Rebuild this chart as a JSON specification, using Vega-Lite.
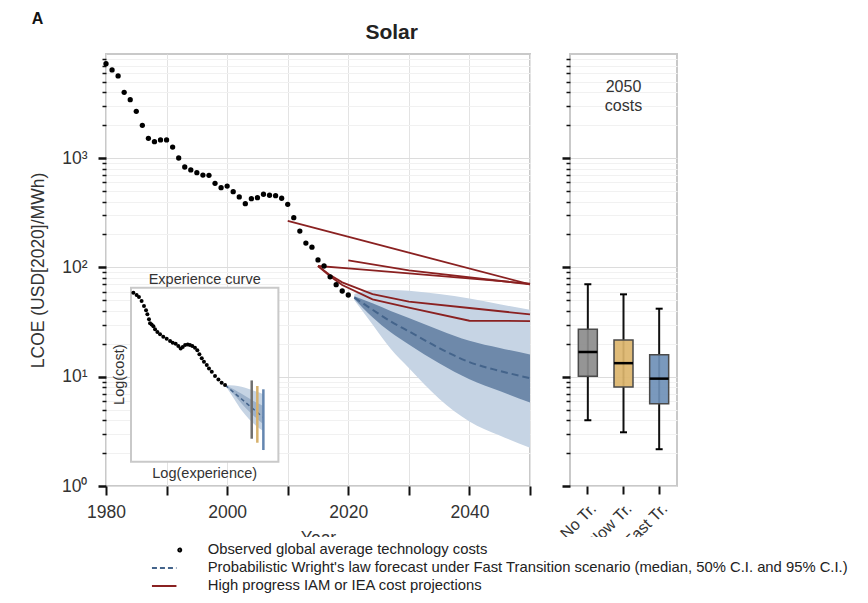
{
  "$schema": "https://vega.github.io/schema/vega-lite/v6.json",
  "padding": {"left": 28, "top": 10, "right": 5, "bottom": 3},
  "bounds": "flush",
  "spacing": 40,
  "title": {"text": "Solar", "fontSize": 21, "fontWeight": "bold", "anchor": "middle", "frame": "group", "offset": 12, "dx": 285.7, "dy": 45, "color": "#222222"},
  "config": {
    "font": "Liberation Sans",
    "view": {"stroke": "#c9c9c9", "strokeWidth": 2},
    "axis": {"labelColor": "#333333", "titleColor": "#333333", "titleFontWeight": "normal", "labelFont": "Liberation Sans", "titleFont": "Liberation Sans"}
  },
  "datasets": {
    "observed": [
      {"year": 1980, "cost": 7300}, {"year": 1981, "cost": 6400}, {"year": 1982, "cost": 5640}, {"year": 1983, "cost": 4000},
      {"year": 1984, "cost": 3420}, {"year": 1985, "cost": 2680}, {"year": 1986, "cost": 1995}, {"year": 1987, "cost": 1518},
      {"year": 1988, "cost": 1413}, {"year": 1989, "cost": 1465}, {"year": 1990, "cost": 1465}, {"year": 1991, "cost": 1262},
      {"year": 1992, "cost": 1002}, {"year": 1993, "cost": 829}, {"year": 1994, "cost": 779}, {"year": 1995, "cost": 735},
      {"year": 1996, "cost": 700}, {"year": 1997, "cost": 696}, {"year": 1998, "cost": 588}, {"year": 1999, "cost": 536},
      {"year": 2000, "cost": 555}, {"year": 2001, "cost": 493}, {"year": 2002, "cost": 441}, {"year": 2003, "cost": 383},
      {"year": 2004, "cost": 425}, {"year": 2005, "cost": 434}, {"year": 2006, "cost": 467}, {"year": 2007, "cost": 457},
      {"year": 2008, "cost": 453}, {"year": 2009, "cost": 429}, {"year": 2010, "cost": 378}, {"year": 2011, "cost": 285},
      {"year": 2012, "cost": 215}, {"year": 2013, "cost": 167}, {"year": 2014, "cost": 153}, {"year": 2015, "cost": 117},
      {"year": 2016, "cost": 103}, {"year": 2017, "cost": 82}, {"year": 2018, "cost": 69.5}, {"year": 2019, "cost": 60.8},
      {"year": 2020, "cost": 55.9}
    ],
    "forecast": [
      {"year": 2021, "med": 53, "dlo": 51.5, "dhi": 54.5, "llo": 50, "lhi": 57},
      {"year": 2024, "med": 41, "dlo": 35, "dhi": 47, "llo": 30, "lhi": 62},
      {"year": 2027, "med": 32, "dlo": 25.5, "dhi": 40, "llo": 18, "lhi": 62},
      {"year": 2030, "med": 26, "dlo": 19.7, "dhi": 34.5, "llo": 12, "lhi": 61},
      {"year": 2035, "med": 18.3, "dlo": 13.3, "dhi": 26.8, "llo": 6.3, "lhi": 57},
      {"year": 2040, "med": 13.6, "dlo": 9.5, "dhi": 21.3, "llo": 3.9, "lhi": 52},
      {"year": 2045, "med": 11.3, "dlo": 7.4, "dhi": 18.3, "llo": 2.9, "lhi": 46},
      {"year": 2050, "med": 9.7, "dlo": 5.8, "dhi": 16, "llo": 2.24, "lhi": 41}
    ],
    "projections": [
      {"id": "A", "year": 2010, "cost": 266}, {"id": "A", "year": 2050, "cost": 70},
      {"id": "B", "year": 2020, "cost": 116}, {"id": "B", "year": 2030, "cost": 94}, {"id": "B", "year": 2050, "cost": 70},
      {"id": "C", "year": 2015, "cost": 103}, {"id": "C", "year": 2020, "cost": 98}, {"id": "C", "year": 2030, "cost": 88}, {"id": "C", "year": 2050, "cost": 71},
      {"id": "D", "year": 2015, "cost": 103}, {"id": "D", "year": 2017, "cost": 85}, {"id": "D", "year": 2019, "cost": 73}, {"id": "D", "year": 2024, "cost": 57}, {"id": "D", "year": 2030, "cost": 48.6}, {"id": "D", "year": 2040, "cost": 42.5}, {"id": "D", "year": 2050, "cost": 37.2},
      {"id": "E", "year": 2015, "cost": 103}, {"id": "E", "year": 2017, "cost": 83}, {"id": "E", "year": 2019, "cost": 69}, {"id": "E", "year": 2024, "cost": 51}, {"id": "E", "year": 2030, "cost": 42.8}, {"id": "E", "year": 2040, "cost": 32.5}, {"id": "E", "year": 2050, "cost": 32.3}
    ],
    "boxes": [
      {"scenario": "No Tr.", "whisker_low": 4.0, "q1": 10.1, "median": 16.8, "q3": 27.2, "whisker_high": 70},
      {"scenario": "Slow Tr.", "whisker_low": 3.1, "q1": 8.05, "median": 13.3, "q3": 21.7, "whisker_high": 56.7},
      {"scenario": "Fast Tr.", "whisker_low": 2.17, "q1": 5.66, "median": 9.6, "q3": 15.9, "whisker_high": 41.9}
    ],
    "inset_observed": [
      {"ix": 1.6, "iy": 97.1}, {"ix": 3.8, "iy": 95.8}, {"ix": 5.4, "iy": 94.6}, {"ix": 7.2, "iy": 92.3}, {"ix": 8.8, "iy": 89.5},
      {"ix": 10.2, "iy": 87.0}, {"ix": 11.1, "iy": 84.7}, {"ix": 12.2, "iy": 81.8}, {"ix": 12.9, "iy": 79.5}, {"ix": 14.0, "iy": 78.9},
      {"ix": 15.2, "iy": 77.8}, {"ix": 16.3, "iy": 76.1}, {"ix": 17.9, "iy": 74.6}, {"ix": 19.7, "iy": 73.2}, {"ix": 21.9, "iy": 71.8},
      {"ix": 24.2, "iy": 70.7}, {"ix": 26.5, "iy": 69.3}, {"ix": 28.3, "iy": 68.4}, {"ix": 30.3, "iy": 67.8}, {"ix": 32.1, "iy": 66.5},
      {"ix": 33.7, "iy": 65.1}, {"ix": 35.1, "iy": 65.9}, {"ix": 36.7, "iy": 67.0}, {"ix": 38.5, "iy": 67.4}, {"ix": 40.0, "iy": 67.0},
      {"ix": 41.6, "iy": 66.5}, {"ix": 43.4, "iy": 65.5}, {"ix": 45.0, "iy": 64.1}, {"ix": 46.4, "iy": 61.7}, {"ix": 48.0, "iy": 59.4},
      {"ix": 49.5, "iy": 57.5}, {"ix": 51.4, "iy": 55.6}, {"ix": 52.9, "iy": 53.6}, {"ix": 54.8, "iy": 51.7}, {"ix": 57.0, "iy": 49.2},
      {"ix": 59.3, "iy": 47.3}, {"ix": 61.5, "iy": 45.4}, {"ix": 63.8, "iy": 44.1}
    ],
    "inset_forecast": [
      {"ix": 63.8, "med": 44.1, "dlo": 44.1, "dhi": 44.1, "llo": 44.1, "lhi": 44.1},
      {"ix": 70, "med": 39.6, "dlo": 38.5, "dhi": 41.5, "llo": 36, "lhi": 43.8},
      {"ix": 75, "med": 36, "dlo": 33.5, "dhi": 39, "llo": 29.5, "lhi": 43},
      {"ix": 80, "med": 32.4, "dlo": 29, "dhi": 36.5, "llo": 24.5, "lhi": 41.8},
      {"ix": 85, "med": 28.8, "dlo": 25, "dhi": 34, "llo": 20.5, "lhi": 40.3},
      {"ix": 89.8, "med": 25.3, "dlo": 21.5, "dhi": 32, "llo": 17.6, "lhi": 38.7}
    ],
    "inset_ranges": [
      {"scenario": "No Tr.", "ix": 81.9, "lo": 13.2, "hi": 46.7},
      {"scenario": "Slow Tr.", "ix": 85.7, "lo": 10.9, "hi": 43.5},
      {"scenario": "Fast Tr.", "ix": 89.8, "lo": 6.7, "hi": 41.6}
    ]
  },
  "hconcat": [
    {
      "width": 424,
      "height": 432,
      "resolve": {"scale": {"x": "independent", "y": "independent"}},
      "layer": [
        {
          "layer": [
            {
              "data": {"name": "forecast"},
              "mark": {"type": "area", "color": "#c6d4e4", "interpolate": "monotone"},
              "encoding": {
                "x": {"field": "year", "type": "quantitative", "title": "Year",
                  "scale": {"domain": [1980, 2050], "nice": false, "zero": false},
                  "axis": {"title": "Year", "values": [1980, 1990, 2000, 2010, 2020, 2030, 2040, 2050], "format": "d",
                    "labelExpr": "datum.value % 20 == 0 ? datum.label : ''", "tickColor": "#111111", "tickWidth": 2, "tickSize": 9,
                    "labelFontSize": 17.5, "labelPadding": 8, "titleFontSize": 17.5, "titlePadding": 9, "domain": false,
                    "gridColor": "#e3e3e3", "gridWidth": 1, "labelFlush": false, "labelOverlap": false}},
                "y": {"field": "llo", "type": "quantitative", "title": "LCOE (USD[2020]/MWh)",
                  "scale": {"type": "log", "domain": [1, 8960], "nice": false},
                  "axis": {"title": "LCOE (USD[2020]/MWh)",
                    "values": [1, 2, 3, 4, 5, 6, 7, 8, 9, 10, 20, 30, 40, 50, 60, 70, 80, 90, 100, 200, 300, 400, 500, 600, 700, 800, 900, 1000, 2000, 3000, 4000, 5000, 6000, 7000, 8000],
                    "labelExpr": "datum.value == 1 ? '10⁰' : datum.value == 10 ? '10¹' : datum.value == 100 ? '10²' : datum.value == 1000 ? '10³' : ''",
                    "tickColor": "#111111",
                    "tickSize": {"condition": {"test": "indexof([1, 10, 100, 1000], datum.value) >= 0", "value": 8}, "value": 4},
                    "tickWidth": {"condition": {"test": "indexof([1, 10, 100, 1000], datum.value) >= 0", "value": 2.5}, "value": 1.5},
                    "gridColor": {"condition": {"test": "indexof([1, 10, 100, 1000], datum.value) >= 0", "value": "#dcdcdc"}, "value": "#f1f1f1"},
                    "labelFontSize": 17.5, "labelPadding": 11, "titleFontSize": 17.5, "titlePadding": 14, "domain": false, "labelOverlap": false}},
                "y2": {"field": "lhi"}
              }
            },
            {
              "data": {"name": "forecast"},
              "mark": {"type": "area", "color": "#6e89aa", "interpolate": "monotone"},
              "encoding": {
                "x": {"field": "year", "type": "quantitative", "title": "Year"},
                "y": {"field": "dlo", "type": "quantitative", "title": "LCOE (USD[2020]/MWh)"},
                "y2": {"field": "dhi"}
              }
            },
            {
              "data": {"name": "forecast"},
              "mark": {"type": "line", "color": "#44648b", "strokeDash": [7, 4], "strokeWidth": 2, "interpolate": "monotone"},
              "encoding": {
                "x": {"field": "year", "type": "quantitative", "title": "Year"},
                "y": {"field": "med", "type": "quantitative", "title": "LCOE (USD[2020]/MWh)"}
              }
            },
            {
              "data": {"name": "projections"},
              "mark": {"type": "line", "color": "#8a2121", "strokeWidth": 1.8},
              "encoding": {
                "x": {"field": "year", "type": "quantitative", "title": "Year"},
                "y": {"field": "cost", "type": "quantitative", "title": "LCOE (USD[2020]/MWh)"},
                "detail": {"field": "id", "type": "nominal"}
              }
            },
            {
              "data": {"name": "observed"},
              "mark": {"type": "circle", "color": "#000000", "size": 28, "opacity": 1},
              "encoding": {
                "x": {"field": "year", "type": "quantitative", "title": "Year"},
                "y": {"field": "cost", "type": "quantitative", "title": "LCOE (USD[2020]/MWh)"}
              }
            },
            {
              "data": {"values": [{}]},
              "mark": {"type": "text", "text": "A", "fontSize": 16, "fontWeight": "bold", "align": "center", "baseline": "alphabetic", "color": "#111111"},
              "encoding": {
                "x": {"datum": 1968.7, "type": "quantitative", "title": "Year"},
                "y": {"datum": 16750, "type": "quantitative", "title": "LCOE (USD[2020]/MWh)"}
              }
            }
          ]
        },
        {
          "layer": [
            {
              "data": {"values": [{}]},
              "mark": {"type": "rect", "fill": "white", "stroke": "#c9c9c9", "strokeWidth": 2},
              "encoding": {
                "x": {"datum": 0, "type": "quantitative", "scale": {"domain": [-16.96, 270.69], "nice": false, "zero": false}, "axis": null},
                "x2": {"datum": 100},
                "y": {"datum": 0, "type": "quantitative", "scale": {"domain": [-13.97, 234.3], "nice": false, "zero": false}, "axis": null},
                "y2": {"datum": 100}
              }
            },
            {
              "data": {"name": "inset_forecast"},
              "mark": {"type": "area", "color": "#c6d4e4", "interpolate": "monotone"},
              "encoding": {
                "x": {"field": "ix", "type": "quantitative", "axis": null},
                "y": {"field": "llo", "type": "quantitative", "axis": null},
                "y2": {"field": "lhi"}
              }
            },
            {
              "data": {"name": "inset_forecast"},
              "mark": {"type": "area", "color": "#9db2cb", "interpolate": "monotone"},
              "encoding": {
                "x": {"field": "ix", "type": "quantitative", "axis": null},
                "y": {"field": "dlo", "type": "quantitative", "axis": null},
                "y2": {"field": "dhi"}
              }
            },
            {
              "data": {"name": "inset_forecast"},
              "mark": {"type": "line", "color": "#44648b", "strokeDash": [4, 3], "strokeWidth": 1.5, "interpolate": "monotone"},
              "encoding": {
                "x": {"field": "ix", "type": "quantitative", "axis": null},
                "y": {"field": "med", "type": "quantitative", "axis": null}
              }
            },
            {
              "data": {"name": "inset_observed"},
              "mark": {"type": "circle", "color": "#000000", "size": 16, "opacity": 1},
              "encoding": {
                "x": {"field": "ix", "type": "quantitative", "axis": null},
                "y": {"field": "iy", "type": "quantitative", "axis": null}
              }
            },
            {
              "data": {"name": "inset_ranges"},
              "mark": {"type": "rule", "strokeWidth": 2.5},
              "encoding": {
                "x": {"field": "ix", "type": "quantitative", "axis": null},
                "y": {"field": "lo", "type": "quantitative", "axis": null},
                "y2": {"field": "hi"},
                "stroke": {"field": "scenario", "type": "nominal", "legend": null,
                  "scale": {"domain": ["No Tr.", "Slow Tr.", "Fast Tr."], "range": ["#6f6f6f", "#d6b16c", "#6486b0"]}}
              }
            },
            {
              "data": {"values": [{}]},
              "mark": {"type": "text", "text": "Experience curve", "fontSize": 14.5, "align": "center", "baseline": "middle", "color": "#333333"},
              "encoding": {
                "x": {"datum": 50, "type": "quantitative", "axis": null},
                "y": {"datum": 104.4, "type": "quantitative", "axis": null}
              }
            },
            {
              "data": {"values": [{}]},
              "mark": {"type": "text", "text": "Log(experience)", "fontSize": 14.5, "align": "center", "baseline": "middle", "color": "#333333"},
              "encoding": {
                "x": {"datum": 50, "type": "quantitative", "axis": null},
                "y": {"datum": -7.1, "type": "quantitative", "axis": null}
              }
            },
            {
              "data": {"values": [{}]},
              "mark": {"type": "text", "text": "Log(cost)", "fontSize": 14.5, "align": "center", "baseline": "middle", "angle": 270, "color": "#333333"},
              "encoding": {
                "x": {"datum": -7.7, "type": "quantitative", "axis": null},
                "y": {"datum": 50, "type": "quantitative", "axis": null}
              }
            }
          ]
        }
      ]
    },
    {
      "width": 107,
      "height": 432,
      "layer": [
        {
          "data": {"name": "boxes"},
          "mark": {"type": "rule", "color": "#111111", "strokeWidth": 2},
          "encoding": {
            "x": {"field": "scenario", "type": "nominal", "sort": null, "title": null,
              "scale": {"domain": ["No Tr.", "Slow Tr.", "Fast Tr."], "paddingInner": 0, "paddingOuter": 0},
              "axis": {"title": null, "labelAngle": -45, "labelFontSize": 16, "tickColor": "#111111", "tickWidth": 2, "tickSize": 8,
                "domain": false, "grid": false, "labelPadding": 6}},
            "y": {"field": "whisker_low", "type": "quantitative", "title": null,
              "scale": {"type": "log", "domain": [1, 8960], "nice": false},
              "axis": {"title": null, "labels": false,
                "values": [1, 2, 3, 4, 5, 6, 7, 8, 9, 10, 20, 30, 40, 50, 60, 70, 80, 90, 100, 200, 300, 400, 500, 600, 700, 800, 900, 1000, 2000, 3000, 4000, 5000, 6000, 7000, 8000],
                "tickColor": "#111111",
                "tickSize": {"condition": {"test": "indexof([1, 10, 100, 1000], datum.value) >= 0", "value": 8}, "value": 4},
                "tickWidth": {"condition": {"test": "indexof([1, 10, 100, 1000], datum.value) >= 0", "value": 2.5}, "value": 1.5},
                "gridColor": {"condition": {"test": "indexof([1, 10, 100, 1000], datum.value) >= 0", "value": "#dcdcdc"}, "value": "#f1f1f1"},
                "domain": false}},
            "y2": {"field": "whisker_high"}
          }
        },
        {
          "data": {"name": "boxes"},
          "mark": {"type": "bar", "width": 19, "stroke": "#4a4a4a", "strokeWidth": 1.5, "fillOpacity": 0.92},
          "encoding": {
            "x": {"field": "scenario", "type": "nominal", "sort": null, "title": null},
            "y": {"field": "q1", "type": "quantitative", "title": null},
            "y2": {"field": "q3"},
            "fill": {"field": "scenario", "type": "nominal", "legend": null,
              "scale": {"domain": ["No Tr.", "Slow Tr.", "Fast Tr."], "range": ["#8c8c8c", "#dcb56d", "#6f90b7"]}}
          }
        },
        {
          "data": {"name": "boxes"},
          "mark": {"type": "tick", "color": "#000000", "thickness": 2.5, "size": 19, "opacity": 1},
          "encoding": {
            "x": {"field": "scenario", "type": "nominal", "sort": null, "title": null},
            "y": {"field": "median", "type": "quantitative", "title": null}
          }
        },
        {
          "data": {"name": "boxes"},
          "mark": {"type": "tick", "color": "#000000", "thickness": 2, "size": 7, "opacity": 1},
          "encoding": {
            "x": {"field": "scenario", "type": "nominal", "sort": null, "title": null},
            "y": {"field": "whisker_low", "type": "quantitative", "title": null}
          }
        },
        {
          "data": {"name": "boxes"},
          "mark": {"type": "tick", "color": "#000000", "thickness": 2, "size": 7, "opacity": 1},
          "encoding": {
            "x": {"field": "scenario", "type": "nominal", "sort": null, "title": null},
            "y": {"field": "whisker_high", "type": "quantitative", "title": null}
          }
        },
        {
          "data": {"values": [{}]},
          "mark": {"type": "text", "text": ["2050", "costs"], "fontSize": 16, "lineHeight": 19.5, "align": "center", "baseline": "alphabetic", "color": "#333333"},
          "encoding": {
            "x": {"datum": "Slow Tr.", "type": "nominal", "title": null},
            "y": {"datum": 4051, "type": "quantitative", "title": null}
          }
        },
        {
          "data": {"values": []},
          "mark": {"type": "point", "filled": false, "strokeWidth": 2, "opacity": 1},
          "encoding": {
            "color": {"field": "series", "type": "nominal",
              "scale": {"domain": ["Observed global average technology costs", "Probabilistic Wright's law forecast under Fast Transition scenario (median, 50% C.I. and 95% C.I.)", "High progress IAM or IEA cost projections"],
                "range": ["#000000", "#44648b", "#8a2121"]},
              "legend": {"title": null, "orient": "none", "legendX": 40.7, "legendY": 483, "direction": "vertical",
                "fillColor": "white", "padding": 4, "symbolSize": 600, "symbolStrokeWidth": 2, "clipHeight": 18,
                "rowPadding": 0, "labelFontSize": 14.8, "labelColor": "#222222", "labelOffset": 30, "labelLimit": 800, "zindex": 1}},
            "shape": {"field": "series", "type": "nominal",
              "scale": {"domain": ["Observed global average technology costs", "Probabilistic Wright's law forecast under Fast Transition scenario (median, 50% C.I. and 95% C.I.)", "High progress IAM or IEA cost projections"],
                "range": ["M1.15,0a0.12,0.12 0 1,0 0.24,0a0.12,0.12 0 1,0 -0.24,0", "M-1,0H1", "M-1,0H1"]},
              "legend": {"title": null, "orient": "none", "legendX": 40.7, "legendY": 483, "direction": "vertical",
                "fillColor": "white", "padding": 4, "symbolSize": 600, "symbolStrokeWidth": 2, "clipHeight": 18,
                "rowPadding": 0, "labelFontSize": 14.8, "labelColor": "#222222", "labelOffset": 30, "labelLimit": 800, "zindex": 1}},
            "strokeDash": {"field": "series", "type": "nominal",
              "scale": {"domain": ["Observed global average technology costs", "Probabilistic Wright's law forecast under Fast Transition scenario (median, 50% C.I. and 95% C.I.)", "High progress IAM or IEA cost projections"],
                "range": [[1, 0], [5, 3], [1, 0]]},
              "legend": {"title": null, "orient": "none", "legendX": 40.7, "legendY": 483, "direction": "vertical",
                "fillColor": "white", "padding": 4, "symbolSize": 600, "symbolStrokeWidth": 2, "clipHeight": 18,
                "rowPadding": 0, "labelFontSize": 14.8, "labelColor": "#222222", "labelOffset": 30, "labelLimit": 800, "zindex": 1}}
          }
        }
      ]
    }
  ]
}
